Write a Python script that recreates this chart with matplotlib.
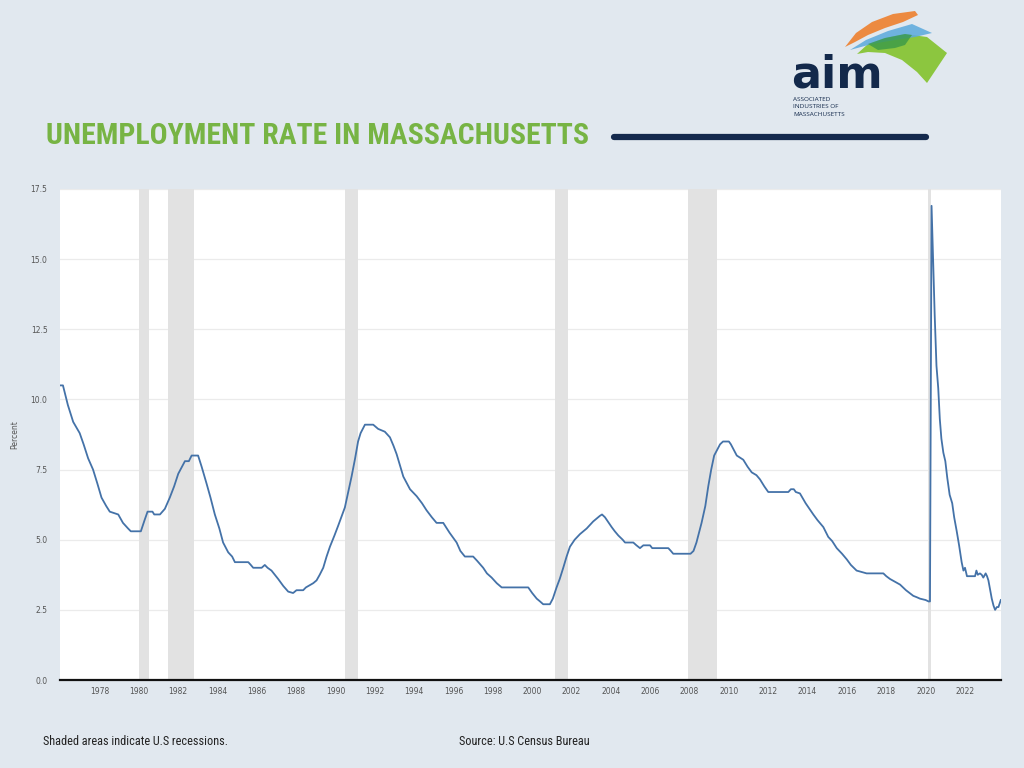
import matplotlib
matplotlib.use("Agg")
import matplotlib.pyplot as plt
from matplotlib import font_manager as fm
from matplotlib.patches import Polygon

# ---------------- data ----------------
dates = [1976.00, 1976.15, 1976.40, 1976.67, 1977.00, 1977.20, 1977.43, 1977.68, 1977.90,
         1978.11, 1978.35, 1978.53, 1978.96, 1979.20, 1979.46, 1979.60, 1980.11, 1980.30,
         1980.45, 1980.70, 1980.79, 1981.08, 1981.33, 1981.58, 1981.80, 1982.01, 1982.20,
         1982.35, 1982.55, 1982.69, 1983.02, 1983.20, 1983.45, 1983.65, 1983.87, 1984.10,
         1984.29, 1984.55, 1984.75, 1984.89, 1985.57, 1985.70, 1985.82, 1986.25, 1986.41,
         1986.55, 1986.75, 1987.09, 1987.35, 1987.60, 1987.85, 1988.02, 1988.36, 1988.50,
         1988.87, 1989.04, 1989.20, 1989.38, 1989.55, 1989.72, 1989.95, 1990.14, 1990.48,
         1990.65, 1990.82, 1991.00, 1991.15, 1991.28, 1991.50, 1991.92, 1992.17, 1992.51,
         1992.77, 1992.95, 1993.11, 1993.30, 1993.45, 1993.79, 1994.13, 1994.40, 1994.63,
         1994.90, 1995.14, 1995.48, 1995.80, 1996.16, 1996.35, 1996.58, 1997.00, 1997.20,
         1997.51, 1997.70, 1997.94, 1998.20, 1998.45, 1999.80, 2000.00, 2000.23, 2000.40,
         2000.56, 2000.90, 2001.05, 2001.24, 2001.40, 2001.58, 2001.75, 2001.92, 2002.16,
         2002.43, 2002.77, 2003.10, 2003.44, 2003.55, 2003.70, 2004.04, 2004.20, 2004.38,
         2004.60, 2004.72, 2005.14, 2005.30, 2005.48, 2005.65, 2005.99, 2006.10, 2006.92,
         2007.05, 2007.17, 2008.05, 2008.20, 2008.35, 2008.50, 2008.61, 2008.80, 2008.95,
         2009.10, 2009.25, 2009.40, 2009.55, 2009.70, 2010.00, 2010.10, 2010.40, 2010.73,
         2010.95, 2011.16, 2011.40, 2011.58, 2011.80, 2012.00, 2013.02, 2013.15, 2013.30,
         2013.40, 2013.61, 2013.90, 2014.29, 2014.50, 2014.80, 2015.05, 2015.25, 2015.48,
         2015.75, 2015.99, 2016.20, 2016.49, 2017.00, 2017.85, 2018.00, 2018.19, 2018.45,
         2018.70, 2019.00, 2019.37, 2019.55, 2019.71, 2020.00, 2020.15, 2020.22, 2020.30,
         2020.38, 2020.46, 2020.55, 2020.64, 2020.72, 2020.80, 2020.90, 2021.00, 2021.10,
         2021.22, 2021.35, 2021.45, 2021.58, 2021.70, 2021.83, 2021.92, 2022.00, 2022.10,
         2022.51, 2022.58, 2022.65, 2022.76, 2022.85, 2022.93, 2023.05, 2023.12, 2023.19,
         2023.28, 2023.36, 2023.45, 2023.53, 2023.62, 2023.70, 2023.82]
rates = [10.5, 10.5, 9.8, 9.2, 8.8, 8.4, 7.9, 7.5, 7.0,
         6.5, 6.2, 6.0, 5.9, 5.6, 5.4, 5.3, 5.3, 5.7,
         6.0, 6.0, 5.9, 5.9, 6.1, 6.5, 6.9, 7.35, 7.6,
         7.8, 7.8, 8.0, 8.0, 7.6, 7.0, 6.5, 5.9, 5.4,
         4.9, 4.55, 4.4, 4.2, 4.2, 4.1, 4.0, 4.0, 4.1,
         4.0, 3.9, 3.6, 3.35, 3.15, 3.1, 3.2, 3.2, 3.3,
         3.45, 3.55, 3.75, 4.0, 4.4, 4.75, 5.15, 5.5, 6.15,
         6.7, 7.25, 7.9, 8.5, 8.8, 9.1, 9.1, 8.95, 8.85,
         8.65, 8.35, 8.05, 7.6, 7.25, 6.8, 6.55, 6.3, 6.05,
         5.8, 5.6, 5.6, 5.25, 4.9, 4.6, 4.4, 4.4, 4.25,
         4.0, 3.8, 3.65, 3.45, 3.3, 3.3, 3.1, 2.9, 2.8,
         2.7, 2.7, 2.9, 3.3, 3.6, 4.0, 4.4, 4.75, 5.0,
         5.2, 5.4, 5.65, 5.85, 5.9, 5.8, 5.45, 5.3, 5.15,
         5.0, 4.9, 4.9, 4.8, 4.7, 4.8, 4.8, 4.7, 4.7,
         4.6, 4.5, 4.5, 4.6, 4.9, 5.3, 5.6, 6.2, 6.9,
         7.5, 8.0, 8.2, 8.4, 8.5, 8.5, 8.4, 8.0, 7.85,
         7.6, 7.4, 7.3, 7.15, 6.9, 6.7, 6.7, 6.8, 6.8,
         6.7, 6.65, 6.3, 5.9, 5.7, 5.45, 5.1, 4.95, 4.7,
         4.5, 4.3, 4.1, 3.9, 3.8, 3.8, 3.7, 3.6, 3.5,
         3.4, 3.2, 3.0, 2.95, 2.9, 2.85, 2.8, 2.8, 16.9,
         15.0, 13.0, 11.2, 10.4, 9.3, 8.6, 8.1, 7.8, 7.2,
         6.6, 6.3, 5.8, 5.3, 4.8, 4.2, 3.9, 4.0, 3.7,
         3.7, 3.9, 3.75, 3.8, 3.75, 3.65, 3.8, 3.7, 3.55,
         3.2, 2.9, 2.65, 2.5, 2.6, 2.6, 2.85]

recession_starts = [1980.00, 1981.50, 1990.50, 2001.17, 2007.92, 2020.10]
recession_ends   = [1980.50, 1982.83, 1991.17, 2001.83, 2009.42, 2020.28]

x_ticks = list(range(1978, 2024, 2))
y_ticks = [0.0, 2.5, 5.0, 7.5, 10.0, 12.5, 15.0, 17.5]

title_text = "UNEMPLOYMENT RATE IN MASSACHUSETTS"
footer_left = "Shaded areas indicate U.S recessions."
footer_right = "Source: U.S Census Bureau"

# ---------------- fonts ----------------
names = {f.name for f in fm.fontManager.ttflist}
def pick(*cands):
    for c in cands:
        if c in names:
            return c
    return "DejaVu Sans"
narrow = pick("Liberation Sans Narrow", "DejaVu Sans Condensed", "Roboto Condensed", "Liberation Sans")
plain = pick("Open Sans", "Liberation Sans", "DejaVu Sans")

BG = "#e1e8ef"
fig = plt.figure(figsize=(10.24, 7.68), dpi=100, facecolor=BG)

# overlay in pixel coords
ov = fig.add_axes([0, 0, 1, 1], zorder=0)
ov.set_xlim(0, 1024)
ov.set_ylim(768, 0)
ov.axis("off")

# ---------------- chart ----------------
W, H = 1024, 768
L, R, T, B = 60, 1001, 189, 680
ax = fig.add_axes([L / W, 1 - B / H, (R - L) / W, (B - T) / H], zorder=2)
ax.set_facecolor("white")
for s, e in zip(recession_starts, recession_ends):
    ax.axvspan(s, e, color="#e2e2e2", lw=0, zorder=1)
ax.plot(dates, rates, color="#4472a8", lw=1.3, zorder=3, solid_joinstyle="round")
ax.set_xlim(1976.0, 2023.83)
ax.set_ylim(0, 17.5)
ax.set_yticks(y_ticks)
ax.set_yticklabels([f"{v:.1f}" for v in y_ticks])
ax.set_xticks(x_ticks)
ax.set_xticklabels([str(v) for v in x_ticks])
ax.grid(axis="y", color="#ebebeb", lw=0.9, zorder=0)
ax.set_axisbelow(True)
for sp in ("left", "right", "top"):
    ax.spines[sp].set_visible(False)
ax.spines["bottom"].set_color("#111111")
ax.spines["bottom"].set_linewidth(1.6)
ax.spines["bottom"].set_zorder(4)
ax.tick_params(axis="both", length=0, labelsize=5.5, labelcolor="#555555")
ax.tick_params(axis="y", pad=9)
ax.tick_params(axis="x", pad=5)
ax.set_ylabel("Percent", fontsize=5.5, color="#555555")
ax.yaxis.set_label_coords((19 - L) / (R - L), 0.5)

# ---------------- title ----------------
t = ov.text(46, 144, title_text, fontsize=27, fontweight="bold", color="#77b444",
            family=[narrow, "DejaVu Sans"], ha="left", va="baseline")
fig.canvas.draw()
bb = t.get_window_extent()
t.set_fontsize(27 * 542.0 / bb.width)
ov.plot([614, 926], [137, 137], color="#14294d", lw=4.5, solid_capstyle="round")

# ---------------- logo ----------------
green = [(857, 54), (868, 44), (885, 38), (905, 34), (927, 37), (947, 53),
         (937, 68), (927, 83), (917, 72), (902, 60), (885, 53), (868, 52)]
blue = [(850, 50), (866, 40), (888, 31), (912, 24), (932, 33), (915, 37),
        (895, 40), (872, 44)]
orange = [(845, 47), (856, 33), (872, 22), (893, 14), (915, 11), (918, 15),
          (903, 22), (885, 28), (868, 35), (855, 42)]
ov.add_patch(Polygon(green, closed=True, fc="#8cc63f", ec="none"))
ov.add_patch(Polygon(blue, closed=True, fc="#5aa9dd", ec="none", alpha=0.85))
ov.add_patch(Polygon(orange, closed=True, fc="#ef7a22", ec="none", alpha=0.85))
ov.add_patch(Polygon([(868, 44), (885, 38), (905, 34), (912, 35), (905, 45),
                      (895, 48), (878, 50)], closed=True, fc="#3a9a48", ec="none", alpha=0.8))
ov.text(791, 88, "aim", fontsize=32, fontweight="bold", color="#13294b",
        family="DejaVu Sans", ha="left", va="baseline")
for i, line in enumerate(["ASSOCIATED", "INDUSTRIES OF", "MASSACHUSETTS"]):
    ov.text(793, 101 + i * 7.5, line, fontsize=4.6, color="#13294b",
            family=[plain, "DejaVu Sans"], ha="left", va="baseline")

# ---------------- footer ----------------
ov.text(43, 745, footer_left, fontsize=8.8, color="#222222",
        family=[narrow, "DejaVu Sans"], ha="left", va="baseline")
ov.text(459, 745, footer_right, fontsize=8.8, color="#222222",
        family=[narrow, "DejaVu Sans"], ha="left", va="baseline")

fig.savefig("out.png", dpi=100, facecolor=BG)
